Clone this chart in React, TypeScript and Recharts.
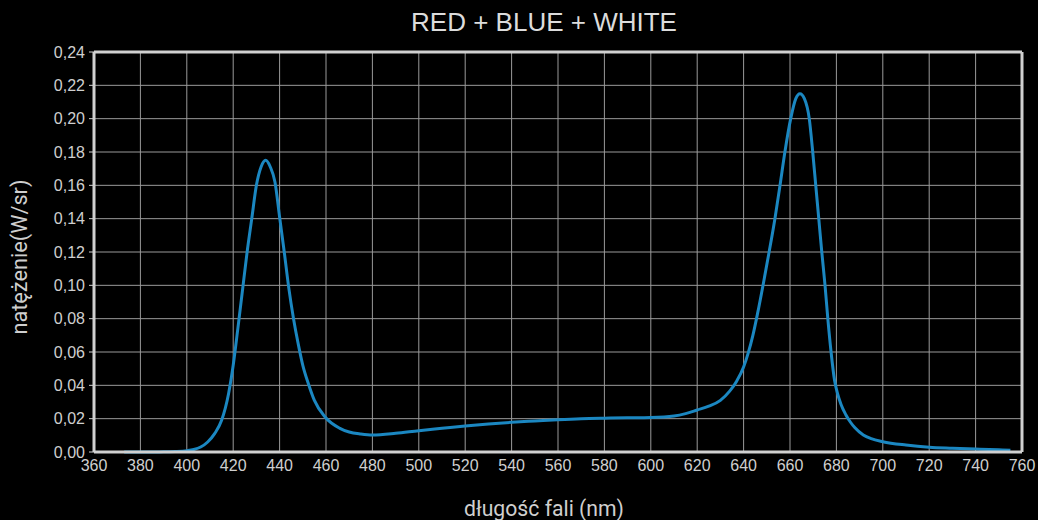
import { LineChart, Line, XAxis, YAxis, CartesianGrid, ReferenceLine } from 'recharts'

const wavelengths = [
  373, 380, 390, 395, 400, 403, 406, 409, 412, 415, 418, 420, 422, 424, 426, 428, 430, 432, 434,
  436, 438, 440, 442, 444, 446, 448, 450, 452.4, 455, 459.6, 466, 470, 475, 480, 490, 500, 510,
  520, 530, 540, 550, 560, 570, 580, 590, 600, 610, 615, 620, 625, 630, 634, 637, 640, 642, 644,
  646, 648.5, 651, 653.5, 655.7, 657.8, 660.3, 662.5, 664.3, 666.2, 668.3, 669.8, 671.1, 672.4,
  673.7, 675.1, 676.3, 677.7, 679.2, 680.5, 682, 684, 686, 688, 691.6, 695, 700, 710, 720, 730,
  740, 750, 755
]
const intensity = [
  0, 0, 0.0001, 0.0003, 0.0008, 0.0015, 0.003, 0.006, 0.011, 0.019, 0.035, 0.052, 0.074, 0.097,
  0.12, 0.14, 0.16, 0.171, 0.175, 0.171, 0.162, 0.141, 0.12, 0.098, 0.08, 0.065, 0.052, 0.041,
  0.031, 0.021, 0.0142, 0.012, 0.0108, 0.0102, 0.0112, 0.0128, 0.0142, 0.0156, 0.0168, 0.0178,
  0.0186, 0.0194, 0.02, 0.0203, 0.0205, 0.0207, 0.0216, 0.023, 0.0252, 0.0275, 0.031, 0.0365,
  0.0425, 0.051, 0.0595, 0.07, 0.083, 0.101, 0.12, 0.14, 0.16, 0.18, 0.2, 0.212, 0.215, 0.212,
  0.2, 0.18, 0.16, 0.14, 0.12, 0.1, 0.08, 0.06, 0.043, 0.035, 0.0285, 0.0225, 0.018, 0.0145,
  0.0102, 0.008, 0.0062, 0.0042, 0.0029, 0.0023, 0.0018, 0.0013, 0.001
]
const xTicks = [360, 380, 400, 420, 440, 460, 480, 500, 520, 540, 560, 580, 600, 620, 640, 660, 680, 700, 720, 740, 760]
const yTicks = [0, 0.02, 0.04, 0.06, 0.08, 0.1, 0.12, 0.14, 0.16, 0.18, 0.2, 0.22, 0.24]

const data = wavelengths.map((nm, i) => ({ nm, value: intensity[i] }))

const font = '"Liberation Sans", Arial, sans-serif'
const textColor = '#cfcfcf'

export default function App() {
  return (
    <div style={{ position: 'absolute', left: 0, top: 0, width: 1038, height: 520, background: '#000' }}>
      <div
        style={{
          position: 'absolute',
          left: 0,
          top: 6,
          width: 1088,
          textAlign: 'center',
          color: '#dcdcdc',
          fontFamily: font,
          fontSize: 26,
          lineHeight: '32px'
        }}
      >
        RED + BLUE + WHITE
      </div>
      <LineChart
        width={1038}
        height={520}
        data={data}
        margin={{ top: 52, right: 16, bottom: 0, left: 0 }}
      >
        <CartesianGrid stroke="#9a9a9a" strokeWidth={1} />
        <XAxis
          dataKey="nm"
          type="number"
          domain={[360, 760]}
          ticks={xTicks}
          interval={0}
          height={68}
          axisLine={{ stroke: '#d0d0d0', strokeWidth: 3 }}
          tickLine={false}
          tickMargin={2}
          tick={{ fill: textColor, fontSize: 16, fontFamily: font }}
          label={() => (
            <text
              x={544}
              y={516}
              textAnchor="middle"
              fill={textColor}
              fontSize={22}
              fontFamily="Roboto, sans-serif"
              textLength={160}
              lengthAdjust="spacingAndGlyphs"
            >
              długość fali (nm)
            </text>
          )}
        />
        <YAxis
          type="number"
          domain={[0, 0.24]}
          ticks={yTicks}
          interval={0}
          width={94}
          axisLine={{ stroke: '#d0d0d0', strokeWidth: 3 }}
          tickLine={{ stroke: '#d0d0d0' }}
          tickSize={5}
          tickMargin={4}
          tickFormatter={(v: number) => v.toFixed(2).replace('.', ',')}
          tick={{ fill: textColor, fontSize: 16, fontFamily: font }}
          label={() => (
            <text
              x={0}
              y={0}
              transform="translate(27 257) rotate(-90)"
              textAnchor="middle"
              fill={textColor}
              fontSize={22}
              fontFamily="Roboto, sans-serif"
              textLength={155}
              lengthAdjust="spacingAndGlyphs"
            >
              natężenie(W/sr)
            </text>
          )}
        />
        <ReferenceLine y={0.24} stroke="#d0d0d0" strokeWidth={3} />
        <ReferenceLine x={760} stroke="#d0d0d0" strokeWidth={3} />
        <Line
          type="monotone"
          dataKey="value"
          stroke="#1b87c1"
          strokeWidth={3}
          dot={false}
          isAnimationActive={false}
        />
      </LineChart>
    </div>
  )
}
